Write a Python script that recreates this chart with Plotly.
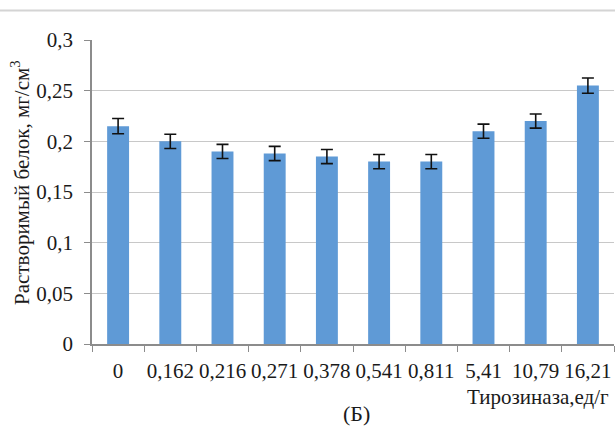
import plotly.graph_objects as go

# Tyrosinase dose (units/g) and soluble protein content (mg/cm3)
doses = ["0", "0,162", "0,216", "0,271", "0,378", "0,541", "0,811", "5,41", "10,79", "16,21"]
protein = [0.215, 0.200, 0.190, 0.188, 0.185, 0.180, 0.180, 0.210, 0.220, 0.255]
errors = [0.0075, 0.007, 0.007, 0.007, 0.007, 0.007, 0.007, 0.007, 0.007, 0.0075]
y_ticks = [0, 0.05, 0.1, 0.15, 0.2, 0.25, 0.3]
y_tick_text = ["0", "0,05", "0,1", "0,15", "0,2", "0,25", "0,3"]

FONT = "Liberation Serif"
TEXT = "#1a1a1a"
AXIS_GRAY = "#8c8c8c"
GRID_GRAY = "#c8c8c8"

fig = go.Figure()
fig.add_trace(go.Bar(
    x=doses,
    y=protein,
    marker=dict(color="#5f9ad6", line=dict(width=0)),
    error_y=dict(type="data", array=errors, visible=True,
                 color="#111111", thickness=1.6, width=6),
))

fig.update_layout(
    width=615, height=426,
    margin=dict(l=92, r=1, t=40, b=82),
    paper_bgcolor="white", plot_bgcolor="white",
    showlegend=False,
    bargap=0.58,
    font=dict(family=FONT, size=21, color=TEXT),
    xaxis=dict(
        type="category",
        showline=True, linecolor=AXIS_GRAY, linewidth=1.5,
        ticks="outside", tickson="boundaries", ticklen=6,
        tickcolor=AXIS_GRAY, tickwidth=1,
        showgrid=False, tickangle=0,
        tickfont=dict(family=FONT, size=21, color=TEXT),
        ticklabelstandoff=7,
    ),
    yaxis=dict(
        range=[0, 0.3],
        tickvals=y_ticks, ticktext=y_tick_text,
        showline=True, linecolor=AXIS_GRAY, linewidth=1.5,
        ticks="outside", ticklen=6, tickcolor=AXIS_GRAY, tickwidth=1,
        showgrid=True, gridcolor=GRID_GRAY, gridwidth=1.2,
        zeroline=False,
        tickfont=dict(family=FONT, size=21, color=TEXT),
        ticklabelstandoff=7,
    ),
    annotations=[
        dict(text="Растворимый белок, мг/см<sup>3</sup>", textangle=-90,
             xref="paper", yref="paper", x=-0.136, y=0.53,
             xanchor="center", yanchor="middle", showarrow=False,
             font=dict(family=FONT, size=21, color=TEXT)),
        dict(text="Тирозиназа,ед/г",
             xref="paper", yref="paper", x=0.994, y=-0.174,
             xanchor="right", yanchor="middle", showarrow=False,
             font=dict(family=FONT, size=21, color=TEXT)),
        dict(text="(Б)",
             xref="paper", yref="paper", x=0.506, y=-0.227,
             xanchor="center", yanchor="middle", showarrow=False,
             font=dict(family=FONT, size=22, color=TEXT)),
    ],
    shapes=[
        dict(type="line", xref="paper", yref="paper",
             x0=-0.2, x1=1.01, y0=1.097, y1=1.097,
             line=dict(color="#d4d4d4", width=2)),
    ],
)

fig.write_html("out.html")
